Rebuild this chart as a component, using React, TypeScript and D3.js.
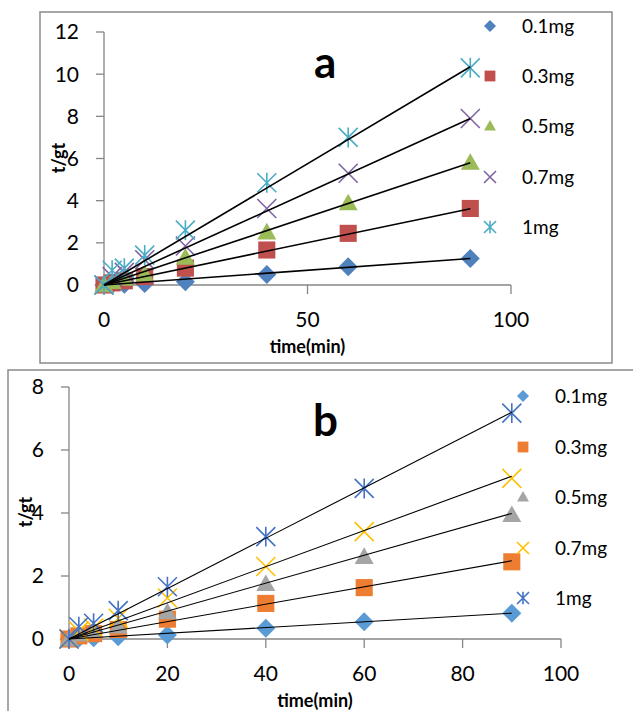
import React from 'react';
import * as d3 from 'd3';

// ---------- DATA ----------
const times = [0, 2, 5, 10, 20, 40, 60, 90];
const seriesNames = ['0.1mg', '0.3mg', '0.5mg', '0.7mg', '1mg'];

// Panel a (t/qt)
const a01 = [0, 0.02, 0.04, 0.07, 0.15, 0.5, 0.87, 1.26];
const a03 = [0, 0.1, 0.2, 0.4, 0.8, 1.66, 2.45, 3.63];
const a05 = [0, 0.15, 0.3, 0.5, 1.3, 2.5, 3.88, 5.8];
const a07 = [0, 0.4, 0.6, 1.2, 1.85, 3.63, 5.3, 7.9];
const a1 = [0, 0.7, 0.8, 1.42, 2.6, 4.85, 7.0, 10.3];
const aSlopes = [0.014, 0.0402, 0.0644, 0.0878, 0.115];
const aIntercepts = [0, 0, 0, 0, 0];

// Panel b (t/qt)
const b01 = [0, 0.02, 0.04, 0.07, 0.13, 0.34, 0.55, 0.82];
const b03 = [0, 0.1, 0.17, 0.3, 0.63, 1.13, 1.63, 2.45];
const b05 = [0, 0.15, 0.25, 0.4, 0.85, 1.75, 2.61, 3.94];
const b07 = [0, 0.25, 0.35, 0.66, 1.3, 2.3, 3.41, 5.1];
const b1 = [0, 0.39, 0.5, 0.9, 1.66, 3.25, 4.78, 7.17];
const bSlopes = [0.0091, 0.0276, 0.0443, 0.0574, 0.08];
const bIntercepts = [0, 0, 0, 0, 0];

const aTicksX = [0, 50, 100];
const aTicksY = [0, 2, 4, 6, 8, 10, 12];
const bTicksX = [0, 20, 40, 60, 80, 100];
const bTicksY = [0, 2, 4, 6, 8];

const colorsA = ['#4F81BD', '#C0504D', '#9BBB59', '#8064A2', '#4BACC6'];
const colorsB = ['#5B9BD5', '#ED7D31', '#A5A5A5', '#FFC000', '#4472C4'];
const markerTypes = ['diamond', 'square', 'triangle', 'x', 'star'];

const FONT = 'Lato, "Open Sans", sans-serif';
const AXIS = '#868686';

function Marker({ type, x, y, s, color }: { type: string; x: number; y: number; s: number; color: string }) {
  const h = s / 2;
  if (type === 'diamond') {
    return <path d={`M${x},${y - h}L${x + h},${y}L${x},${y + h}L${x - h},${y}Z`} fill={color} />;
  }
  if (type === 'square') {
    const q = h * 0.9;
    return <rect x={x - q} y={y - q} width={2 * q} height={2 * q} fill={color} />;
  }
  if (type === 'triangle') {
    return <path d={`M${x},${y - h}L${x + h},${y + h * 0.75}L${x - h},${y + h * 0.75}Z`} fill={color} />;
  }
  if (type === 'x') {
    return (
      <path d={`M${x - h},${y - h}L${x + h},${y + h}M${x + h},${y - h}L${x - h},${y + h}`} stroke={color} strokeWidth={1.6} fill="none" />
    );
  }
  return (
    <path
      d={`M${x - h},${y - h}L${x + h},${y + h}M${x + h},${y - h}L${x - h},${y + h}M${x},${y - h * 1.05}L${x},${y + h * 1.05}`}
      stroke={color}
      strokeWidth={1.6}
      fill="none"
    />
  );
}

type PanelProps = {
  series: number[][];
  slopes: number[];
  intercepts: number[];
  colors: string[];
  xr: [number, number];
  yr: [number, number];
  yMax: number;
  ticksX: number[];
  ticksY: number[];
  label: string;
  labelPos: [number, number];
  yTitlePos: [number, number];
  xTitleY: number;
  legendX: number;
  legendYs: number[];
  lineW: number;
  markSize: number;
  legendMark: number;
};

function Panel(p: PanelProps) {
  const x = d3.scaleLinear().domain([0, 100]).range(p.xr);
  const y = d3.scaleLinear().domain([0, p.yMax]).range(p.yr);
  return (
    <g fontFamily={FONT}>
      {/* axes */}
      <line x1={x(0)} x2={x(0)} y1={y(0)} y2={y(p.yMax)} stroke={AXIS} strokeWidth={1.3} />
      <line x1={x(0)} x2={x(100)} y1={y(0)} y2={y(0)} stroke={AXIS} strokeWidth={1.3} />
      {p.ticksY.map((t) => (
        <g key={'ty' + t}>
          <line x1={x(0) - 8} x2={x(0)} y1={y(t)} y2={y(t)} stroke={AXIS} strokeWidth={1.3} />
          <text x={x(0) - 25} y={y(t)} dy="0.35em" textAnchor="end" fontSize={21} fill="#000">
            {t}
          </text>
        </g>
      ))}
      {p.ticksX.map((t) => (
        <g key={'tx' + t}>
          <line x1={x(t)} x2={x(t)} y1={y(0)} y2={y(0) + 9} stroke={AXIS} strokeWidth={1.3} />
          <text x={x(t)} y={y(0) + 35} dy="0.35em" textAnchor="middle" fontSize={21} fill="#000">
            {t}
          </text>
        </g>
      ))}
      <text x={(p.xr[0] + p.xr[1]) / 2} y={p.xTitleY} dy="0.35em" textAnchor="middle" fontSize={18} fontWeight="bold">
        time(min)
      </text>
      <text
        transform={`translate(${p.yTitlePos[0]},${p.yTitlePos[1]}) rotate(-90)`}
        textAnchor="middle"
        dy="0.35em"
        fontSize={18}
        fontWeight="bold"
      >
        t/gt
      </text>
      {/* markers */}
      {p.series.map((vals, si) =>
        vals.map((v, i) => (
          <Marker key={si + '-' + i} type={markerTypes[si]} x={x(times[i])} y={y(v)} s={p.markSize} color={p.colors[si]} />
        ))
      )}
      {/* fit lines */}
      {p.slopes.map((m, si) => {
        const pts = [0, 90];
        const yl = d3
          .line<number>()
          .x((t) => x(t))
          .y((t) => y(p.intercepts[si] + m * t));
        return <path key={'fit' + si} d={yl(pts) || ''} stroke="#000" strokeWidth={p.lineW} fill="none" />;
      })}
      {/* label */}
      <text x={p.labelPos[0]} y={p.labelPos[1]} fontSize={44} fontWeight="bold">
        {p.label}
      </text>
      {/* legend */}
      {seriesNames.map((n, i) => (
        <g key={'lg' + i}>
          <Marker type={markerTypes[i]} x={p.legendX} y={p.legendYs[i]} s={p.legendMark} color={p.colors[i]} />
          <text x={p.legendX + 32} y={p.legendYs[i]} dy="0.35em" fontSize={19}>
            {n}
          </text>
        </g>
      ))}
    </g>
  );
}

export default function App() {
  return (
    <svg width={633} height={711} style={{ position: 'absolute', left: 0, top: 0, background: '#fff' }}>
      <rect x={0} y={0} width={633} height={711} fill="#fff" />
      <rect x={40} y={12} width={572} height={351} fill="none" stroke="#8a8a8a" strokeWidth={1.5} />
      <rect x={8} y={370} width={640} height={360} fill="none" stroke="#8a8a8a" strokeWidth={1.5} />
      <Panel
        series={[a01, a03, a05, a07, a1]}
        slopes={aSlopes}
        intercepts={aIntercepts}
        colors={colorsA}
        xr={[104, 511]}
        yr={[285, 32]}
        yMax={12}
        ticksX={aTicksX}
        ticksY={aTicksY}
        label="a"
        labelPos={[314, 78]}
        yTitlePos={[59, 158]}
        xTitleY={347}
        legendX={490}
        legendYs={[26, 76, 126, 177, 227]}
        lineW={1.6}
        markSize={19}
        legendMark={12}
      />
      <Panel
        series={[b01, b03, b05, b07, b1]}
        slopes={bSlopes}
        intercepts={bIntercepts}
        colors={colorsB}
        xr={[69, 561]}
        yr={[639, 387]}
        yMax={8}
        ticksX={bTicksX}
        ticksY={bTicksY}
        label="b"
        labelPos={[313, 436]}
        yTitlePos={[26, 512]}
        xTitleY={701}
        legendX={523}
        legendYs={[396, 447, 497, 548, 598]}
        lineW={1.1}
        markSize={19}
        legendMark={12}
      />
    </svg>
  );
}
